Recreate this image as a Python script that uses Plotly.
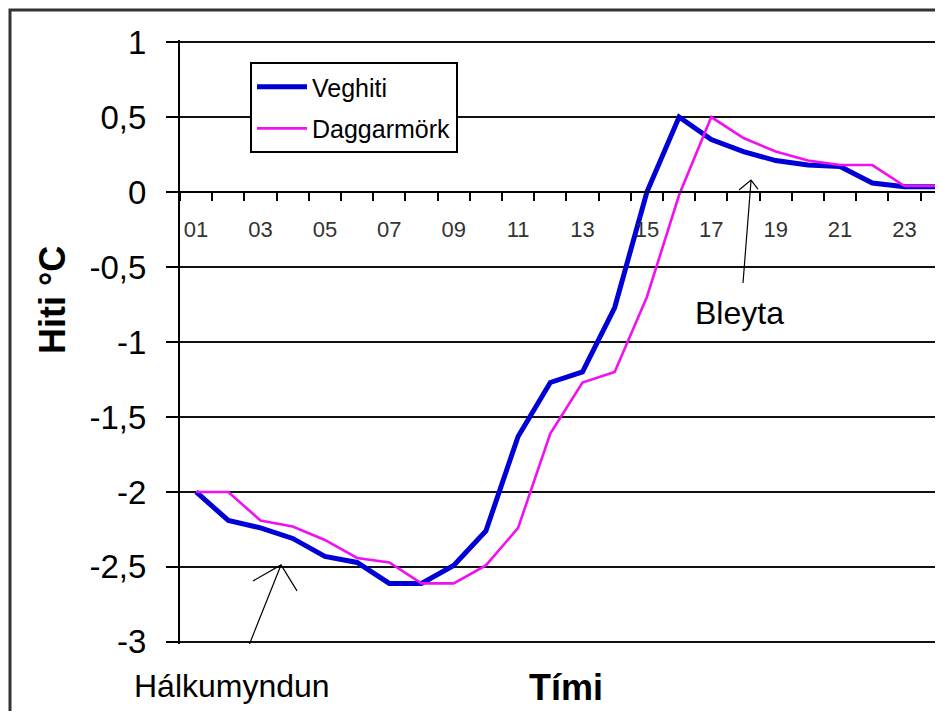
import plotly.graph_objects as go

# ---- data ----
hours = list(range(1, 25))
hour_labels = ["01", "03", "05", "07", "09", "11", "13", "15", "17", "19", "21", "23"]
hour_label_vals = [1, 3, 5, 7, 9, 11, 13, 15, 17, 19, 21, 23]
veghiti = [-2.0, -2.19, -2.24, -2.31, -2.43, -2.47, -2.61, -2.61, -2.49, -2.26,
           -1.63, -1.27, -1.2, -0.77, 0.0, 0.5, 0.35, 0.27, 0.21, 0.18,
           0.17, 0.06, 0.035, 0.035]
daggarmork = [-2.0, -2.0, -2.19, -2.23, -2.32, -2.44, -2.47, -2.61, -2.61, -2.49,
              -2.24, -1.61, -1.27, -1.2, -0.7, -0.02, 0.5, 0.36, 0.27, 0.21,
              0.18, 0.18, 0.04, 0.04]
y_tick_vals = [1, 0.5, 0, -0.5, -1, -1.5, -2, -2.5, -3]
y_tick_text = ["1", "0,5", "0", "-0,5", "-1", "-1,5", "-2", "-2,5", "-3"]

FONT = "Liberation Sans, Arial, sans-serif"
OFF = 8                      # page body margin
W, H = 943 - 2 * OFF, 719 - 2 * OFF
PX_PER_HOUR = 32.2
PX_PER_UNIT = 150.0
PAD = 0.014                  # small padding so the end gridlines are drawn
YR = [-3 - PAD, 1 + PAD]
# page coordinates of plot area
P_LEFT, P_RIGHT = 180, 943 - OFF
P_TOP = 42 - PAD * PX_PER_UNIT
P_BOTTOM = 642 + PAD * PX_PER_UNIT
L = P_LEFT - OFF
R = 0
T = P_TOP - OFF
B = H - (P_BOTTOM - OFF)
PW = P_RIGHT - P_LEFT
PH = P_BOTTOM - P_TOP
XR = [0.5, 0.5 + PW / PX_PER_HOUR]


def xd(px):
    return XR[0] + (px - P_LEFT) / PX_PER_HOUR


def yd(py):
    return YR[1] - (py - P_TOP) / PX_PER_UNIT


def px_(px):
    return (px - P_LEFT) / PW


def py_(py):
    return (P_BOTTOM - py) / PH


fig = go.Figure()
fig.add_trace(go.Scatter(x=hours, y=veghiti, mode="lines", name="Veghiti",
                         line=dict(color="#0000d6", width=5), legendgroup="a"))
fig.add_trace(go.Scatter(x=hours, y=daggarmork, mode="lines", name="Daggarmörk",
                         line=dict(color="#f010f0", width=2.6), legendgroup="b"))

fig.update_layout(
    width=W, height=H,
    margin=dict(l=L, r=R, t=T, b=B, autoexpand=False),
    paper_bgcolor="white", plot_bgcolor="white",
    font=dict(family=FONT, color="black"),
    showlegend=True,
    legend=dict(x=px_(250), y=py_(62), xanchor="left", yanchor="top",
                bgcolor="white", bordercolor="black", borderwidth=2,
                font=dict(size=25, family=FONT, color="black"),
                itemwidth=50, tracegroupgap=6),
    xaxis=dict(range=XR, anchor="free", position=(0 - YR[0]) / (YR[1] - YR[0]),
               showgrid=False, zeroline=False,
               showline=True, linecolor="black", linewidth=2,
               tickmode="array", tickvals=hour_label_vals, ticktext=hour_labels,
               ticks="", ticklabelstandoff=18,
               tickfont=dict(size=22, color="#333333", family=FONT),
               minor=dict(tick0=0.5, dtick=1, ticks="outside", ticklen=8,
                          tickcolor="black", tickwidth=1.5, showgrid=False)),
    yaxis=dict(range=YR, showgrid=True, gridcolor="#111111", gridwidth=1.5,
               zeroline=False, showline=True, linecolor="black", linewidth=2,
               tickmode="array", tickvals=y_tick_vals, ticktext=y_tick_text,
               ticks="outside", ticklen=12, tickcolor="black", tickwidth=1.5,
               ticklabelstandoff=13,
               tickfont=dict(size=33, color="black", family=FONT)),
)

# outer chart border (cropped on right and bottom)
fig.add_shape(type="rect", xref="paper", yref="paper",
              x0=px_(10), x1=px_(1200), y0=py_(1000), y1=py_(10),
              line=dict(color="#333333", width=3), layer="below")

# arrows
bleyta_path = "M {} {} L {} {} M {} {} L {} {} L {} {}".format(
    xd(743), yd(283), xd(751), yd(181),
    xd(739), yd(190), xd(751), yd(180), xd(758), yd(189))
fig.add_shape(type="path", xref="x", yref="y", path=bleyta_path,
              line=dict(color="black", width=1.2))
halku_path = "M {} {} L {} {} M {} {} L {} {} L {} {}".format(
    xd(240), yd(668), xd(281), yd(565),
    xd(253), yd(581), xd(281), yd(565), xd(297), yd(591))
fig.add_shape(type="path", xref="x", yref="y", path=halku_path,
              line=dict(color="black", width=1.2))

ann_font = dict(family=FONT, size=32, color="black")
common = dict(xref="paper", yref="paper", showarrow=False,
              xanchor="center", yanchor="middle")
fig.add_annotation(x=px_(739), y=py_(313), text="Bleyta", font=ann_font, **common)
fig.add_annotation(x=px_(232), y=py_(686), text="Hálkumyndun", font=ann_font, **common)
fig.add_annotation(x=px_(566), y=py_(688), text="<b>Tími</b>",
                   font=dict(family=FONT, size=36, color="black"), **common)
fig.add_annotation(x=px_(52), y=py_(300), text="<b>Hiti °C</b>", textangle=-90,
                   font=dict(family=FONT, size=36, color="black"), **common)

fig.write_html("out.html")
